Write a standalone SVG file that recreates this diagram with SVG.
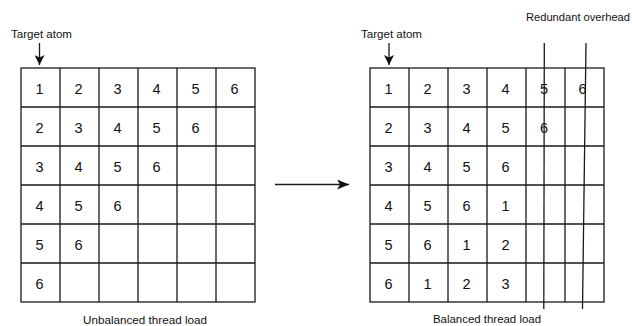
<svg xmlns="http://www.w3.org/2000/svg" width="632" height="326" viewBox="0 0 632 326">
<style>
.g{fill:none;stroke:#1a1a1a;stroke-width:1.3}
.d{font-family:"Liberation Sans",Arial,sans-serif;font-size:14.5px;fill:#111;text-anchor:middle}
.t{font-family:"Liberation Sans",Arial,sans-serif;font-size:10px;fill:#111}
.c{stroke:#1a1a1a;stroke-width:1.3;fill:none}
</style>
<defs>
<marker id="ah" viewBox="0 0 10 10" refX="10" refY="5" markerWidth="10" markerHeight="10" markerUnits="userSpaceOnUse" orient="auto">
<path d="M0,0 L10,5 L0,10 L2.5,5 Z" fill="#111"/>
</marker>
<marker id="ah2" viewBox="0 0 12 10" refX="12" refY="5" markerWidth="12" markerHeight="10" markerUnits="userSpaceOnUse" orient="auto">
<path d="M0,0 L12,5 L0,10 L3,5 Z" fill="#111"/>
</marker>
</defs>
<rect width="632" height="326" fill="#fff"/>

<g id="unbalanced-grid">
<rect class="g" x="21" y="68" width="234" height="234"/>
<path class="g" d="M60,68V302M99,68V302M138,68V302M177,68V302M216,68V302M21,107H255M21,146H255M21,185H255M21,224H255M21,263H255"/>
<g class="d">
<text x="39.5" y="94">1</text><text x="78.5" y="94">2</text><text x="117.5" y="94">3</text><text x="156.5" y="94">4</text><text x="195.5" y="94">5</text><text x="234.5" y="94">6</text>
<text x="39.5" y="133">2</text><text x="78.5" y="133">3</text><text x="117.5" y="133">4</text><text x="156.5" y="133">5</text><text x="195.5" y="133">6</text>
<text x="39.5" y="172">3</text><text x="78.5" y="172">4</text><text x="117.5" y="172">5</text><text x="156.5" y="172">6</text>
<text x="39.5" y="211">4</text><text x="78.5" y="211">5</text><text x="117.5" y="211">6</text>
<text x="39.5" y="250">5</text><text x="78.5" y="250">6</text>
<text x="39.5" y="289">6</text>
</g>
</g>

<g id="balanced-grid">
<rect class="g" x="370" y="68" width="234" height="234"/>
<path class="g" d="M409,68V302M448,68V302M487,68V302M526,68V302M565,68V302M370,107H604M370,146H604M370,185H604M370,224H604M370,263H604"/>
<g class="d">
<text x="388.5" y="94">1</text><text x="427.5" y="94">2</text><text x="466.5" y="94">3</text><text x="505.5" y="94">4</text><text x="544" y="94">5</text><text x="582.5" y="94">6</text>
<text x="388.5" y="133">2</text><text x="427.5" y="133">3</text><text x="466.5" y="133">4</text><text x="505.5" y="133">5</text><text x="544" y="133">6</text>
<text x="388.5" y="172">3</text><text x="427.5" y="172">4</text><text x="466.5" y="172">5</text><text x="505.5" y="172">6</text>
<text x="388.5" y="211">4</text><text x="427.5" y="211">5</text><text x="466.5" y="211">6</text><text x="505.5" y="211">1</text>
<text x="388.5" y="250">5</text><text x="427.5" y="250">6</text><text x="466.5" y="250">1</text><text x="505.5" y="250">2</text>
<text x="388.5" y="289">6</text><text x="427.5" y="289">1</text><text x="466.5" y="289">2</text><text x="505.5" y="289">3</text>
</g>
</g>

<g id="label-target-left"><text class="t" x="11" y="38" textLength="61" lengthAdjust="spacingAndGlyphs">Target atom</text></g>
<g id="label-target-right"><text class="t" x="361" y="38" textLength="61" lengthAdjust="spacingAndGlyphs">Target atom</text></g>
<g id="label-redundant"><text class="t" x="526" y="21" textLength="104" lengthAdjust="spacingAndGlyphs">Redundant overhead</text></g>
<g id="label-unbalanced"><text class="t" x="83" y="324" textLength="124" lengthAdjust="spacingAndGlyphs">Unbalanced thread load</text></g>
<g id="label-balanced"><text class="t" x="433" y="323" textLength="108" lengthAdjust="spacingAndGlyphs">Balanced thread load</text></g>

<g id="connectors">
<line class="c" x1="39.5" y1="43" x2="39.5" y2="65" marker-end="url(#ah)"/>
<line class="c" x1="389" y1="43" x2="389" y2="65" marker-end="url(#ah)"/>
<line class="c" x1="275" y1="184.5" x2="349" y2="184.5" marker-end="url(#ah2)"/>
<line class="c" x1="544.3" y1="43" x2="543.8" y2="309"/>
<line class="c" x1="586" y1="43" x2="582.5" y2="309"/>
</g>
</svg>
